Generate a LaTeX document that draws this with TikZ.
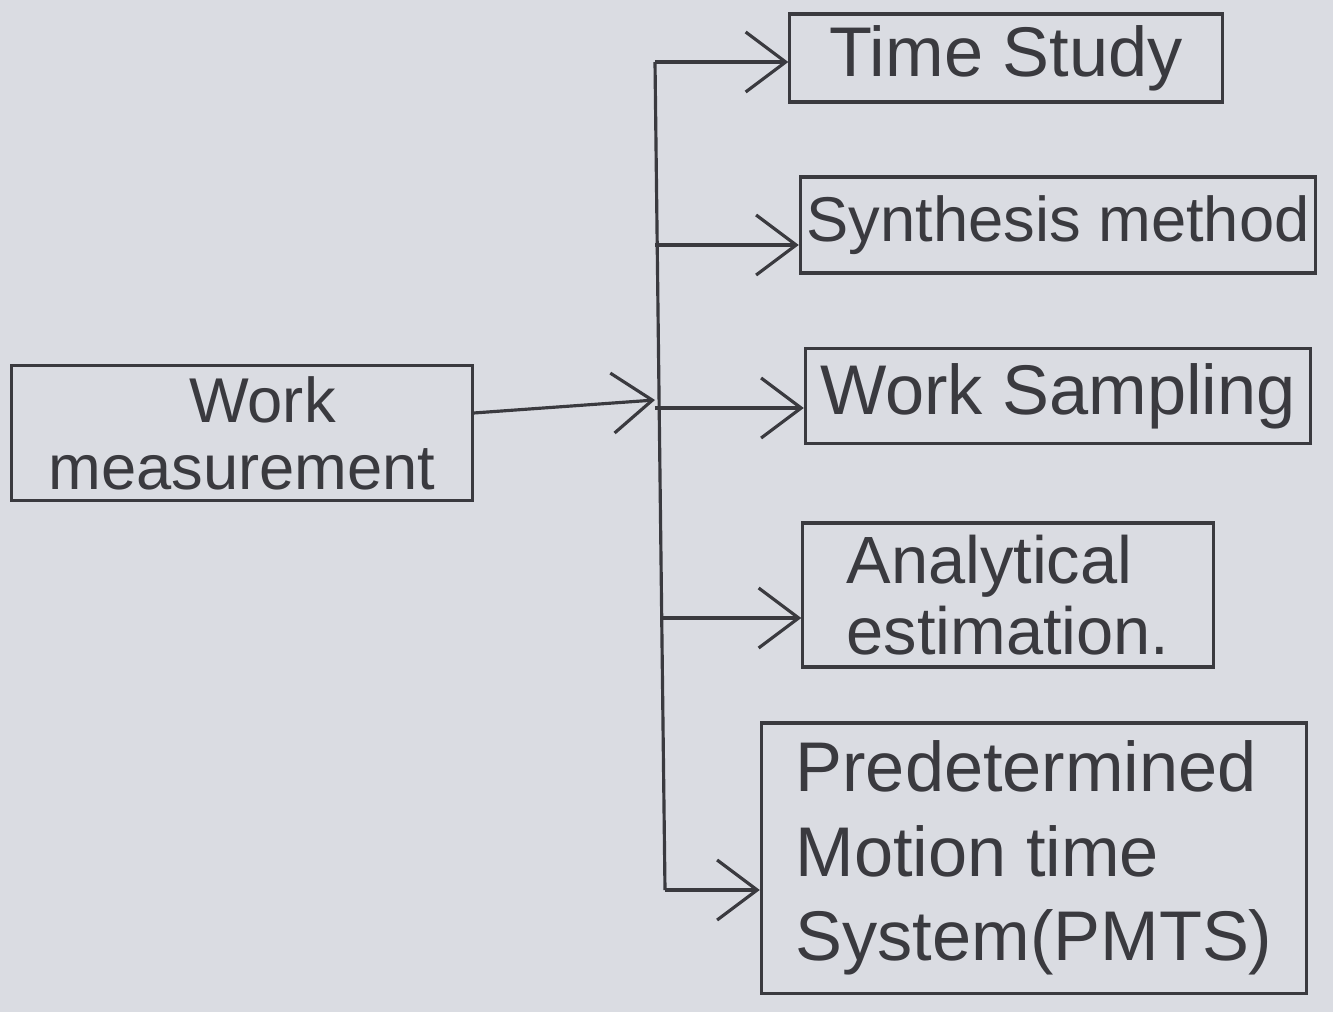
\documentclass[tikz,border=0pt]{standalone}
\usepackage{fontspec}
\setmainfont{Liberation Sans}
\usetikzlibrary{arrows.meta}
\definecolor{paper}{HTML}{DADCE2}
\definecolor{pencil}{HTML}{3A3A3F}
\begin{document}
\begin{tikzpicture}[x=0.01cm,y=-0.01cm,
  pen/.style={draw=pencil,line width=0.9pt},
  box/.style={pen,rectangle,inner sep=0pt,text=pencil,font=\fontsize{20}{24}\selectfont,align=left},
  arr/.style={pen,-{Straight Barb[length=4mm,width=6mm,line width=0.9pt]}}]
  % paper
  \fill[paper] (0,0) rectangle (1333,1012);
  \useasboundingbox (0,0) rectangle (1333,1012);

  % boxes
  \node[box,minimum width=4.6cm,minimum height=1.35cm,font=\fontsize{18}{19}\selectfont] (wm) at (242,433) {\hspace*{40pt}Work\\measurement};
  \node[box,minimum width=4.32cm,minimum height=0.88cm] (ts) at (1006,58) {Time Study};
  \node[box,minimum width=5.15cm,minimum height=0.96cm,font=\fontsize{18}{24}\selectfont] (sm) at (1058,225) {Synthesis method};
  \node[box,minimum width=5.05cm,minimum height=0.95cm] (ws) at (1058,396) {Work Sampling};
  \node[box,minimum width=4.1cm,minimum height=1.44cm,font=\fontsize{19}{20}\selectfont] (ae) at (1008,595) {Analytical\\estimation.};
  \node[box,minimum width=5.45cm,minimum height=2.7cm] (pm) at (1034,858) {Predetermined\\Motion time\\System(PMTS)};

  % trunk
  \coordinate (top) at (655,62);
  \coordinate (mid) at (655,400);
  \coordinate (bot) at (665,890);
  \coordinate (b2) at (655,245);
  \coordinate (b3) at (655,408);
  \coordinate (b4) at (660,618);
  \draw[pen] (top) -- (bot);

  % connectors
  \draw[arr] ([yshift=0.2cm]wm.east) -- (mid);
  \draw[arr] (top) -- (ts.west |- top);
  \draw[arr] (b2) -- (sm.west |- b2);
  \draw[arr] (b3) -- (ws.west |- b3);
  \draw[arr] (b4) -- (ae.west |- b4);
  \draw[arr] (bot) -- (pm.west |- bot);
\end{tikzpicture}
\end{document}
